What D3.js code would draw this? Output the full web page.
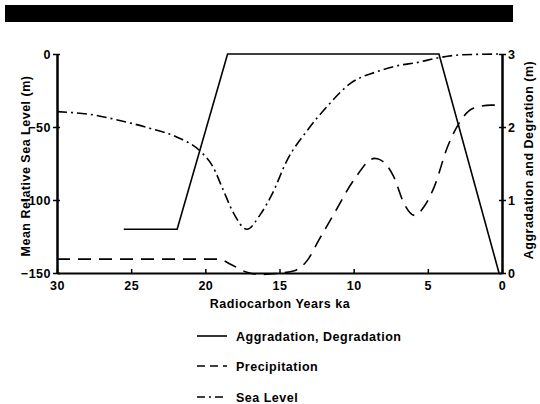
<!DOCTYPE html>
<html>
<head>
<meta charset="utf-8">
<script src="https://cdn.jsdelivr.net/npm/d3@7"></script>
<style>
  body { margin: 0; background: #fff; }
  text { font-family: "Liberation Sans", Arial, sans-serif; font-weight: bold; letter-spacing: 0.5px; }
</style>
</head>
<body>
<script>
"use strict";

let width = 540;
let height = 404;

// x values: radiocarbon years (ka)
let xTicks = [30, 25, 20, 15, 10, 5, 0];
let leftTicks = [0, -50, -100, -150];
let rightTicks = [0, 1, 2, 3];

// aggradation / degradation (right axis, m)
let aggKa = [25.5, 21.9, 18.5, 4.25, 0.2];
let aggVal = [0.6, 0.6, 3, 3, 0];

// precipitation (right axis)
let precipKa = [30, 19.1, 18.3, 17.2, 16.3, 14.9, 14.0, 13.1, 12.35, 11.3, 10.0, 8.6, 8.2, 7.3, 6.6, 5.9, 5.25, 4.57, 3.67, 2.9, 2.0, 0.74, 0];
let precipVal = [0.19, 0.19, 0.12, 0.01, -0.02, 0, 0.03, 0.18, 0.45, 0.82, 1.27, 1.57, 1.55, 1.32, 0.95, 0.79, 0.91, 1.18, 1.73, 2.05, 2.25, 2.3, 2.3];

// mean relative sea level (left axis, m)
let seaKa = [30, 27.5, 26, 23.7, 21.9, 20.3, 19.5, 18.8, 18.1, 17.2, 16.3, 15.5, 14.5, 13.1, 11.8, 10.2, 8.4, 6.8, 5.9, 4.25, 2.6, 0];
let seaVal = [-39.5, -41.8, -45, -51, -57, -67, -77, -93, -109, -120, -110, -96, -73, -52, -36, -20, -12, -7.5, -6.2, -2.5, -0.5, 0];

let svg = d3.select("body").append("svg").attr("width", width).attr("height", height);

// black bar across the top
svg.append("rect")
  .attr("x", 5).attr("y", 5)
  .attr("width", 508).attr("height", 17)
  .attr("fill", "#000");

let x = d3.scaleLinear().domain([30, 0]).range([57, 502]);
let yLeft = d3.scaleLinear().domain([-150, 0]).range([273, 54]);
let yRight = d3.scaleLinear().domain([0, 3]).range([273, 54]);

function styleAxis(g) {
  g.select(".domain").attr("stroke-width", 2);
  g.selectAll(".tick line").attr("stroke-width", 1.5);
  g.selectAll(".tick text")
    .attr("font-size", "12.5px")
    .attr("font-family", "Liberation Sans, Arial, sans-serif")
    .attr("font-weight", "bold")
    .attr("fill", "#000");
}

// bottom axis
svg.append("g")
  .attr("transform", "translate(0,273)")
  .call(d3.axisBottom(x).tickValues(xTicks).tickSize(-4).tickSizeOuter(0).tickPadding(8))
  .call(styleAxis);

// left axis, outer ticks + inner ticks
svg.append("g")
  .attr("transform", "translate(57,0)")
  .call(d3.axisLeft(yLeft).tickValues(leftTicks).tickSize(4).tickSizeOuter(0).tickPadding(2))
  .call(styleAxis);
svg.append("g")
  .attr("transform", "translate(57,0)")
  .call(d3.axisLeft(yLeft).tickValues(leftTicks).tickSize(-3).tickSizeOuter(0).tickFormat(""))
  .call(styleAxis);

// right axis
svg.append("g")
  .attr("transform", "translate(502,0)")
  .call(d3.axisRight(yRight).tickValues(rightTicks).tickFormat(d3.format("d")).tickSize(4).tickSizeOuter(0).tickPadding(2))
  .call(styleAxis);
svg.append("g")
  .attr("transform", "translate(502,0)")
  .call(d3.axisRight(yRight).tickValues(rightTicks).tickSize(-3).tickSizeOuter(0).tickFormat(""))
  .call(styleAxis);

// axis titles
svg.append("text")
  .attr("x", 280).attr("y", 308)
  .attr("text-anchor", "middle")
  .style("font-size", "12.5px")
  .text("Radiocarbon Years ka");

svg.append("text")
  .attr("transform", "translate(30,166) rotate(-90)")
  .attr("text-anchor", "middle")
  .style("font-size", "12.5px")
  .text("Mean Relative Sea Level (m)");

svg.append("text")
  .attr("transform", "translate(533,160) rotate(-90)")
  .attr("text-anchor", "middle")
  .style("font-size", "12.5px")
  .text("Aggradation and Degration (m)");

// lines
let aggLine = d3.line()
  .x(function(d, i) { return x(aggKa[i]); })
  .y(function(d) { return yRight(d); });

let precipLine = d3.line()
  .curve(d3.curveMonotoneX)
  .x(function(d, i) { return x(precipKa[i]); })
  .y(function(d) { return yRight(d); });

let seaLine = d3.line()
  .curve(d3.curveMonotoneX)
  .x(function(d, i) { return x(seaKa[i]); })
  .y(function(d) { return yLeft(d); });

svg.append("path")
  .attr("d", aggLine(aggVal))
  .attr("fill", "none")
  .attr("stroke", "#000")
  .attr("stroke-width", 1.6);

svg.append("path")
  .attr("d", precipLine(precipVal))
  .attr("fill", "none")
  .attr("stroke", "#000")
  .attr("stroke-width", 1.6)
  .attr("stroke-dasharray", "13,8");

svg.append("path")
  .attr("d", seaLine(seaVal))
  .attr("fill", "none")
  .attr("stroke", "#000")
  .attr("stroke-width", 1.6)
  .attr("stroke-dasharray", "10,4,2,4");

// legend
let legend = [
  { label: "Aggradation, Degradation", dash: null, y: 336 },
  { label: "Precipitation", dash: "8,5", y: 366 },
  { label: "Sea Level", dash: "8,4,2,4", y: 397 }
];

let lg = svg.append("g");
legend.forEach(function(d) {
  lg.append("line")
    .attr("x1", 197).attr("x2", 227)
    .attr("y1", d.y).attr("y2", d.y)
    .attr("stroke", "#000")
    .attr("stroke-width", 1.6)
    .attr("stroke-dasharray", d.dash);
  lg.append("text")
    .attr("x", 236).attr("y", d.y + 4.5)
    .style("font-size", "12.5px")
    .text(d.label);
});
</script>
</body>
</html>
